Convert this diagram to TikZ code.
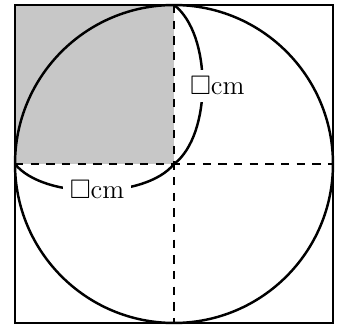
\documentclass[tikz,border=0pt]{standalone}
\usepackage{amsmath}
\usepackage{amssymb}
\usetikzlibrary{positioning, calc}

\begin{document}
\begin{tikzpicture}[
  font=\large,
  frame/.style={draw, line width=1.2pt},
  circ/.style={draw, line width=1.1pt},
  halfline/.style={draw, line width=1.3pt, dash pattern=on 3.7pt off 3.3pt},
  brace/.style={draw, line width=1.1pt},
  lbl/.style={fill=white, inner sep=3pt}
]
  \useasboundingbox (-0.236,-0.047) rectangle (5.079,5.079);
  \coordinate (bl) at (0,0);
  \coordinate (tr) at (5,5);
  \coordinate (tl) at (0,5);
  \coordinate (mid) at (2.5,2.5);
  \coordinate (top) at (2.5,5);
  \coordinate (left) at (0,2.5);
  \coordinate (right) at (5,2.5);
  \coordinate (bottom) at (2.5,0);

  \fill[black!22] (tl) rectangle (mid);
  \draw[halfline] (left) -- (right);
  \draw[halfline] (top) -- (bottom);
  \draw[circ] (mid) circle (2.5);
  \draw[frame] (bl) rectangle (tr);

  \draw[brace] (top) .. controls ($(top)+(0.6,-0.45)$) and ($(mid)+(0.6,0.45)$) .. (mid);
  \draw[brace] (left) .. controls ($(left)+(0.45,-0.56)$) and ($(mid)+(-0.45,-0.56)$) .. (mid);

  \node[lbl] (side1) at (3.18,3.73) {$\square$cm};
  \node[lbl] (side2) at (1.29,2.10) {$\square$cm};
\end{tikzpicture}
\end{document}
